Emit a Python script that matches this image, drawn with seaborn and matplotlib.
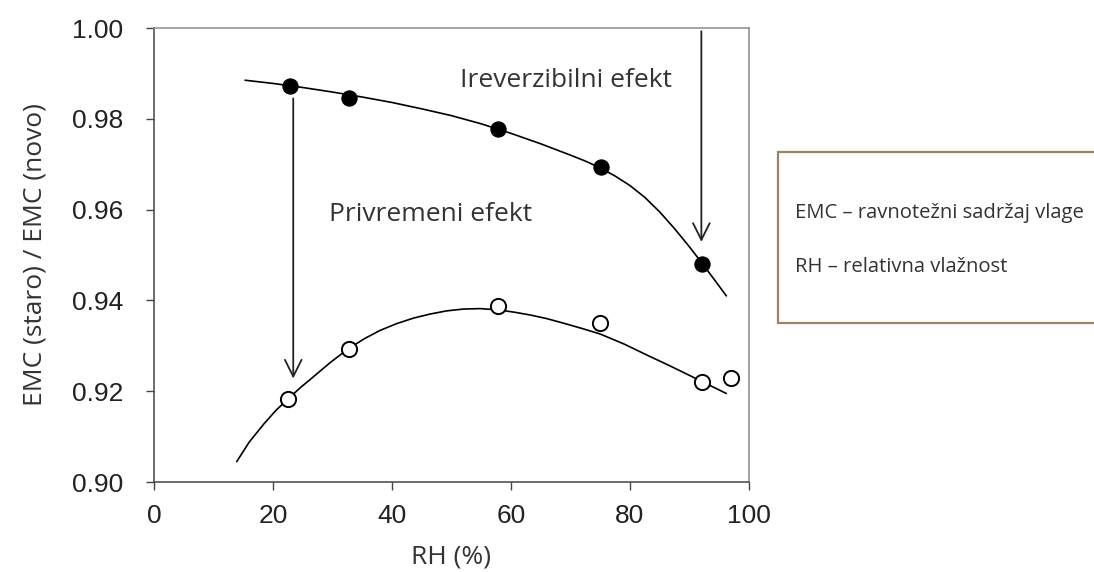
"""
plot.py
Recreates the EMC (old) / EMC (new) vs RH chart with seaborn.
"""

import matplotlib
matplotlib.use('Agg')
import matplotlib.pyplot as plt
from matplotlib.patches import Rectangle
import seaborn as sns


# ── data ───────────────────────────────────────────────────────────────────────

RH_POINTS      = [22.9, 32.8, 57.8, 75.1, 92.1]
EMC_AGED       = [0.9872, 0.9846, 0.9778, 0.9694, 0.9481]

RH_POINTS_OPEN = [22.6, 32.8, 57.8, 75.0, 92.1, 97.0]
EMC_TEMP       = [0.9183, 0.9293, 0.9388, 0.9350, 0.9220, 0.9229]

# fitted curves
CURVE_UP_X     = [15.3, 20, 25, 30, 35, 40, 45, 50, 55, 60, 65, 70, 72.5,
                  75, 77.5, 80, 82.5, 85, 87.5, 90, 92, 94, 96.2]
CURVE_UP_Y     = [0.9885, 0.9878, 0.9869, 0.9859, 0.9848, 0.9836, 0.9822,
                  0.9807, 0.9789, 0.9768, 0.9745, 0.9720, 0.9707, 0.9692,
                  0.9674, 0.9653, 0.9627, 0.9595, 0.9558, 0.9518, 0.9484,
                  0.9449, 0.9410]

CURVE_LOW_X    = [13.9, 16, 18.4, 20.5, 22.6, 24.7, 26.8, 29.7, 32.7, 35.4,
                  38, 40.8, 43.6, 46.4, 49.2, 52, 54.8, 58, 60.6, 63.2, 66,
                  68.8, 72, 75, 79, 82.8, 86.7, 90.6, 93.4, 96.2]
CURVE_LOW_Y    = [0.9045, 0.9088, 0.9127, 0.9158, 0.9184, 0.9209, 0.9232,
                  0.9264, 0.9294, 0.9316, 0.9334, 0.9349, 0.9361, 0.9370,
                  0.9377, 0.9381, 0.9382, 0.9379, 0.9374, 0.9368, 0.9360,
                  0.9350, 0.9338, 0.9326, 0.9304, 0.9280, 0.9256, 0.9231,
                  0.9213, 0.9195]

X_TICKS        = [0, 20, 40, 60, 80, 100]
Y_TICKS        = [0.90, 0.92, 0.94, 0.96, 0.98, 1.00]

LEGEND_LINES   = ['EMC – ravnotežni sadržaj vlage', 'RH – relativna vlažnost']


# ── style ──────────────────────────────────────────────────────────────────────

sns.set_style('ticks')
plt.rcParams['font.family'] = ['Open Sans', 'DejaVu Sans']

TEXT_FONT  = 'Open Sans'
TICK_FONT  = 'Liberation Sans'
DARK       = '#333333'


# ── figure ─────────────────────────────────────────────────────────────────────

fig = plt.figure(figsize=(10.94, 5.72), dpi=100)
ax = fig.add_axes([0.1408, 0.1573, 0.5438, 0.7937])

sns.lineplot(x=CURVE_UP_X, y=CURVE_UP_Y, color='black', linewidth=1.2,
             estimator=None, ax=ax)
sns.lineplot(x=CURVE_LOW_X, y=CURVE_LOW_Y, color='black', linewidth=1.2,
             estimator=None, ax=ax)

sns.scatterplot(x=RH_POINTS, y=EMC_AGED, color='black', edgecolor='black',
                s=120, linewidth=0.8, zorder=3, ax=ax)
sns.scatterplot(x=RH_POINTS_OPEN, y=EMC_TEMP, facecolor='white',
                edgecolor='black', s=120, linewidth=1.4, zorder=3, ax=ax)

# arrows
arrow_kw = dict(arrowstyle='->,head_length=1.2,head_width=0.6',
                color='#222222', lw=1.3, shrinkA=0, shrinkB=0)
ax.annotate('', xy=(23.4, 0.9228), xytext=(23.4, 0.9845), arrowprops=arrow_kw)
ax.annotate('', xy=(92.0, 0.9529), xytext=(92.0, 0.9993), arrowprops=arrow_kw)

ax.text(69.2, 0.9885, 'Ireverzibilni efekt', ha='center', va='center',
        fontsize=19, color=DARK, family=TEXT_FONT)
ax.text(46.5, 0.9590, 'Privremeni efekt', ha='center', va='center',
        fontsize=19, color=DARK, family=TEXT_FONT)

# axes
ax.set_xlim(0, 100)
ax.set_ylim(0.90, 1.00)
ax.set_xticks(X_TICKS)
ax.set_yticks(Y_TICKS)
ax.set_xticklabels([str(t) for t in X_TICKS], family=TICK_FONT, fontsize=19,
                   color='#222222')
ax.set_yticklabels([f'{t:.2f}' for t in Y_TICKS], family=TICK_FONT,
                   fontsize=19, color='#222222')
ax.tick_params(axis='both', direction='out', length=6, width=1,
               color='#444444')
ax.tick_params(axis='y', pad=16)
ax.tick_params(axis='x', pad=10)

ax.set_xlabel('RH (%)', fontsize=19, color=DARK, family=TEXT_FONT, labelpad=12)
ax.set_ylabel('EMC (staro) / EMC (novo)', fontsize=19, color=DARK,
              family=TEXT_FONT, labelpad=18)

for side in ['left', 'bottom']:
    ax.spines[side].set_color('#444444')
    ax.spines[side].set_linewidth(1.1)
for side in ['top', 'right']:
    ax.spines[side].set_visible(True)
    ax.spines[side].set_color('#8c8c8c')
    ax.spines[side].set_linewidth(1.1)

# legend box on the right
box = Rectangle((0.711, 0.4353), 0.30, 0.299, transform=fig.transFigure,
                facecolor='white', edgecolor='#9e8462', linewidth=1.6)
fig.add_artist(box)
fig.text(0.7267, 0.6276, LEGEND_LINES[0], ha='left', va='center',
         fontsize=14.6, color=DARK, family=TEXT_FONT)
fig.text(0.7267, 0.5332, LEGEND_LINES[1], ha='left', va='center',
         fontsize=14.6, color=DARK, family=TEXT_FONT)

fig.savefig('out.png', dpi=100)
plt.close(fig)
